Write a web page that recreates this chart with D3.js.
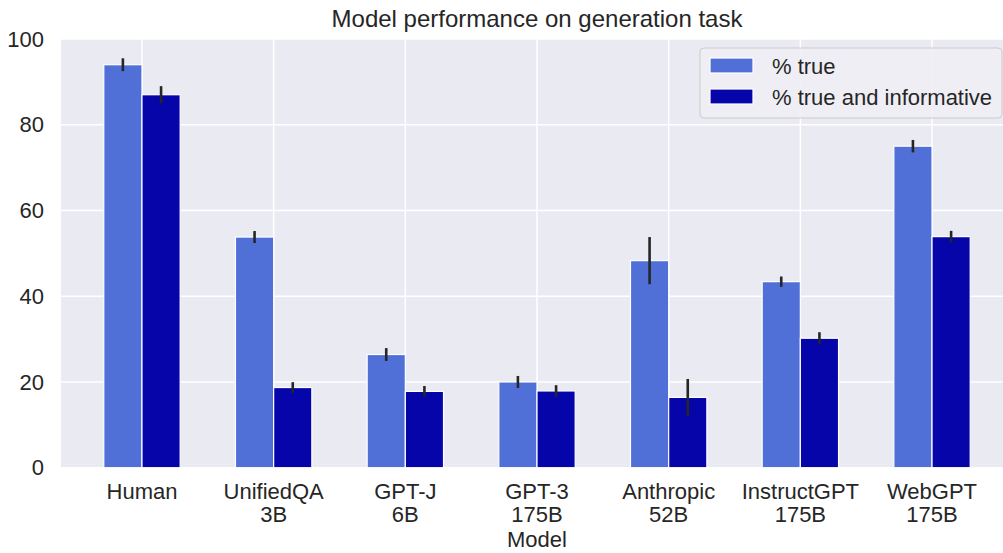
<!DOCTYPE html>
<html>
<head>
<meta charset="utf-8">
<script src="https://cdn.jsdelivr.net/npm/d3@7"></script>
<style>
  body { margin: 0; background: #fff; }
  svg { display: block; font-family: "Liberation Sans", Arial, sans-serif; }
</style>
</head>
<body>
<script>
// data
var models = ["Human", "UnifiedQA\n3B", "GPT-J\n6B", "GPT-3\n175B", "Anthropic\n52B", "InstructGPT\n175B", "WebGPT\n175B"];
var seriesNames = ["% true", "% true and informative"];
var pctTrue = [94.0, 53.8, 26.4, 20.0, 48.3, 43.4, 75.0];
var pctTrueErr = [1.5, 1.4, 1.5, 1.4, 5.5, 1.2, 1.45];
var pctTrueInfo = [87.0, 18.7, 17.8, 17.9, 16.4, 30.2, 53.9];
var pctTrueInfoErr = [2.0, 1.25, 1.25, 1.35, 4.3, 1.4, 1.35];
var yTicks = [0, 20, 40, 60, 80, 100];

var colors = ["#5070d8", "#0505aa"];
var width = 1003, height = 553;
var margin = {left: 61, top: 39, bottom: 86};
var plotRight = 1013;
var plotBottom = height - margin.bottom + 0.7;
var fs = 22;

var svg = d3.select("body").append("svg").attr("width", width).attr("height", height);

// category scale: centers spaced evenly, matplotlib-like padding
var x = d3.scaleLinear().domain([-0.615, models.length - 1 + 0.615]).range([margin.left, plotRight]);
var y = d3.scaleLinear().domain([0, 100]).range([plotBottom, margin.top]);
var barW = 0.29;

svg.append("rect").attr("x", margin.left).attr("y", margin.top)
  .attr("width", plotRight - margin.left).attr("height", plotBottom - margin.top)
  .attr("fill", "#eaeaf2");

// grid
svg.selectAll("line.gy").data(yTicks).enter().append("line")
  .attr("x1", margin.left).attr("x2", plotRight)
  .attr("y1", function (d) { return y(d); }).attr("y2", function (d) { return y(d); })
  .attr("stroke", "#fff").attr("stroke-width", 1.5);
svg.selectAll("line.gx").data(models).enter().append("line")
  .attr("x1", function (d, i) { return x(i); }).attr("x2", function (d, i) { return x(i); })
  .attr("y1", margin.top).attr("y2", plotBottom)
  .attr("stroke", "#fff").attr("stroke-width", 1.5);

// bars
var series = [
  {vals: pctTrue, err: pctTrueErr, off: -barW},
  {vals: pctTrueInfo, err: pctTrueInfoErr, off: 0}
];
series.forEach(function (s, si) {
  svg.append("g").selectAll("rect").data(s.vals).enter().append("rect")
    .attr("x", function (d, i) { return x(i + s.off); })
    .attr("width", x(barW) - x(0))
    .attr("y", function (d) { return y(d); })
    .attr("height", function (d) { return y(0) - y(d); })
    .attr("fill", colors[si]).attr("stroke", "#fff").attr("stroke-width", 1.2);
  svg.append("g").selectAll("line").data(s.vals).enter().append("line")
    .attr("x1", function (d, i) { return x(i + s.off + barW / 2); })
    .attr("x2", function (d, i) { return x(i + s.off + barW / 2); })
    .attr("y1", function (d, i) { return y(d - s.err[i]); })
    .attr("y2", function (d, i) { return y(d + s.err[i]); })
    .attr("stroke", "#262626").attr("stroke-width", 2.6);
});

// y axis labels
svg.selectAll("text.yt").data(yTicks).enter().append("text")
  .attr("x", 44).attr("y", function (d) { return y(d); }).attr("dy", "0.35em")
  .attr("text-anchor", "end").attr("font-size", fs).attr("fill", "#262626")
  .text(function (d) { return d; });

// x axis labels (two lines)
var xl = svg.selectAll("text.xt").data(models).enter().append("text")
  .attr("text-anchor", "middle").attr("font-size", fs).attr("fill", "#262626")
  .attr("transform", function (d, i) { return "translate(" + x(i) + ",499)"; });
xl.selectAll("tspan").data(function (d) { return d.split("\n"); }).enter().append("tspan")
  .attr("x", 0).attr("y", function (d, j) { return j * 23; })
  .text(function (d) { return d; });

svg.append("text").attr("x", x(3)).attr("y", 547).attr("text-anchor", "middle")
  .attr("font-size", fs).attr("fill", "#262626").text("Model");

svg.append("text").attr("x", x(3)).attr("y", 27).attr("text-anchor", "middle")
  .attr("font-size", 24).attr("fill", "#262626").text("Model performance on generation task");

// legend
var lg = svg.append("g").attr("transform", "translate(700,48)");
lg.append("rect").attr("width", 302).attr("height", 70).attr("rx", 4)
  .attr("fill", "#eeeef4").attr("fill-opacity", 0.9).attr("stroke", "#cccccc");
seriesNames.forEach(function (name, i) {
  lg.append("rect").attr("x", 10).attr("y", 10 + i * 31).attr("width", 43).attr("height", 15)
    .attr("fill", colors[i]).attr("stroke", "#fff").attr("stroke-width", 1.2);
  lg.append("text").attr("x", 72).attr("y", 18 + i * 31).attr("dy", "0.35em")
    .attr("font-size", fs).attr("fill", "#262626").text(name);
});
</script>
</body>
</html>
